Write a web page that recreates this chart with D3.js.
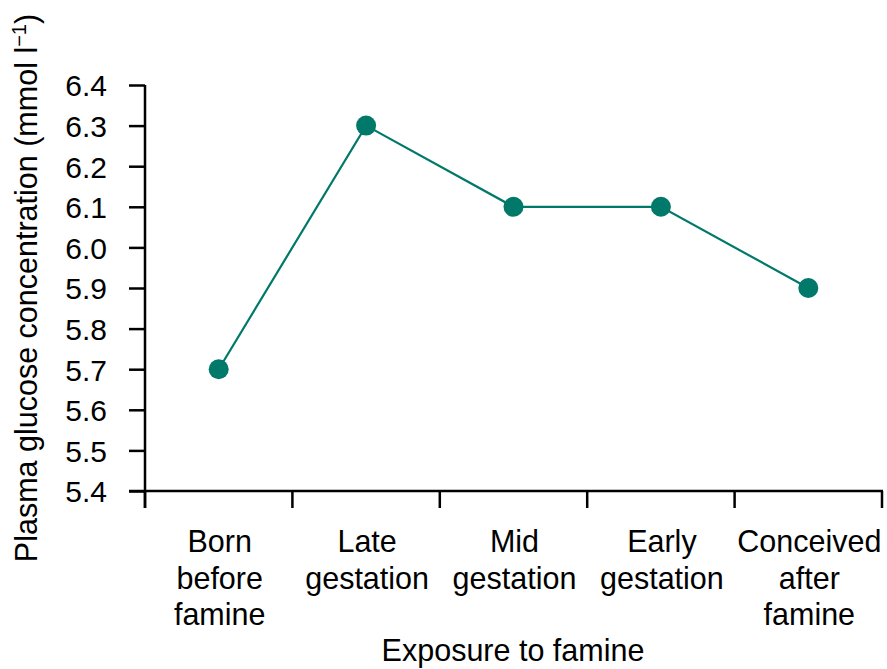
<!DOCTYPE html>
<html><head><meta charset="utf-8">
<script src="https://cdn.jsdelivr.net/npm/d3@7"></script>
<style>body{margin:0;background:#fff;} text{font-family:"Liberation Sans",Arial,sans-serif;fill:#000;}</style>
</head><body>
<svg id="c" width="887" height="669"></svg>
<script>
const categories = [["Born","before","famine"],["Late","gestation"],["Mid","gestation"],["Early","gestation"],["Conceived","after","famine"]];
const values = [5.7, 6.3, 6.1, 6.1, 5.9];
const yTicks = [5.4,5.5,5.6,5.7,5.8,5.9,6.0,6.1,6.2,6.3,6.4];
const color = "#00796b";
const FS = "30.5px";

const svg = d3.select("#c");
const x = d3.scaleBand().domain(d3.range(categories.length)).range([145, 882]);
const y = d3.scaleLinear().domain([5.4, 6.4]).range([491, 85]);

// y axis
const ya = svg.append("g").attr("transform","translate(145,0)")
  .call(d3.axisLeft(y).tickValues(yTicks).tickFormat(d3.format(".1f")).tickSize(16).tickSizeOuter(0));
ya.select(".domain").remove();
ya.selectAll(".tick line").attr("stroke","#000").attr("stroke-width",2.5);
ya.selectAll(".tick text").attr("x",-38).style("font-size","30px").attr("dy","0.36em");
svg.append("line").attr("x1",145).attr("x2",145).attr("y1",85).attr("y2",508).attr("stroke","#000").attr("stroke-width",2.5);

// x axis
svg.append("line").attr("x1",129).attr("x2",883).attr("y1",491).attr("y2",491).attr("stroke","#000").attr("stroke-width",2.5);
const bounds = d3.range(categories.length+1).map(i => i < categories.length ? x(i) : x(i-1)+x.bandwidth());
svg.selectAll(".xt").data(bounds).enter().append("line")
  .attr("x1",d=>d).attr("x2",d=>d).attr("y1",491).attr("y2",508).attr("stroke","#000").attr("stroke-width",2.5);
const xl = svg.selectAll(".xl").data(categories).enter().append("text")
  .attr("text-anchor","middle").style("font-size",FS)
  .attr("transform",(d,i)=>`translate(${x(i)+x.bandwidth()/2+1},552)`);
xl.selectAll("tspan").data(d=>d).enter().append("tspan").attr("x",0).attr("y",(d,i)=>i*36.5).text(d=>d);

// titles
svg.append("text").attr("x",513).attr("y",661).attr("text-anchor","middle").style("font-size",FS).text("Exposure to famine");
const yt = svg.append("text").attr("transform","translate(37,288) rotate(-90)").attr("text-anchor","middle").style("font-size",FS);
yt.append("tspan").text("Plasma glucose concentration (mmol l");
yt.append("tspan").attr("dy",-11).style("font-size","20px").text("\u22121");
yt.append("tspan").attr("dy",11).text(")");

// line and points
const cx = i => x(i)+x.bandwidth()/2;
svg.append("path").datum(values).attr("fill","none").attr("stroke",color).attr("stroke-width",2.2)
  .attr("d", d3.line().x((d,i)=>cx(i)).y(d=>y(d)));
svg.selectAll(".pt").data(values).enter().append("circle")
  .attr("cx",(d,i)=>cx(i)).attr("cy",d=>y(d)).attr("r",10).attr("fill",color);
</script>
</body></html>
